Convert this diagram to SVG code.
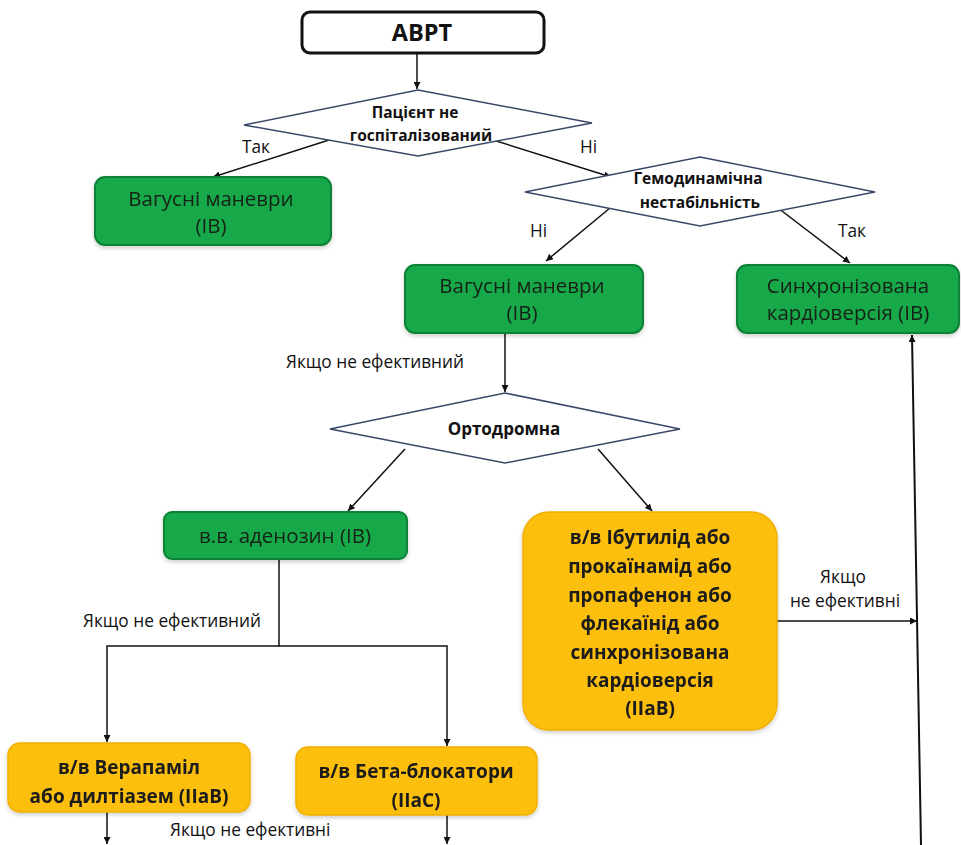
<svg xmlns="http://www.w3.org/2000/svg" width="961" height="845" viewBox="0 0 961 845">
<style>
.bg{fill:#ffffff}
.green{fill:#13a84a;stroke:#0c8236;stroke-width:2}
.orange{fill:#fdbf0f;stroke:#f0b000;stroke-width:1.5}
.dia{fill:#ffffff;stroke:#3a4868;stroke-width:1.5}
.start{fill:#ffffff;stroke:#111111;stroke-width:3}
.conn{fill:none;stroke:#111111;stroke-width:1.5}
.tg{font-family:"Open Sans","Liberation Sans",sans-serif;font-size:20.5px;fill:#152015;text-anchor:middle}
.tb{font-family:"Open Sans","Liberation Sans",sans-serif;font-size:19px;font-weight:bold;fill:#1a1a1a;text-anchor:middle}
.td{font-family:"Open Sans","Liberation Sans",sans-serif;font-size:15.5px;font-weight:bold;fill:#111111;text-anchor:middle}
.tl{font-family:"Open Sans","Liberation Sans",sans-serif;font-size:17.3px;fill:#111111}
.ts{font-family:"Open Sans","Liberation Sans",sans-serif;font-size:23.5px;font-weight:bold;fill:#111111;text-anchor:middle}
</style>
<defs>
<marker id="arr" viewBox="0 0 10 10" refX="10" refY="5" markerWidth="7" markerHeight="7" orient="auto" markerUnits="userSpaceOnUse">
<path d="M0,0 L10,5 L0,10 z" fill="#111111"/>
</marker>
<filter id="sh" x="-10%" y="-10%" width="120%" height="130%">
<feDropShadow dx="0" dy="2" stdDeviation="2" flood-color="#000000" flood-opacity="0.2"/>
</filter>
</defs>
<rect class="bg" x="0" y="0" width="961" height="845"/>

<g id="connectors">
<line class="conn" x1="417" y1="53" x2="417" y2="89" marker-end="url(#arr)"/>
<line class="conn" x1="329" y1="140" x2="213" y2="177" marker-end="url(#arr)"/>
<line class="conn" x1="493" y1="140" x2="611" y2="177" marker-end="url(#arr)"/>
<line class="conn" x1="610" y1="208" x2="546" y2="261" marker-end="url(#arr)"/>
<line class="conn" x1="778" y1="208" x2="850" y2="263" marker-end="url(#arr)"/>
<line class="conn" x1="505" y1="333" x2="505" y2="392" marker-end="url(#arr)"/>
<line class="conn" x1="405" y1="449" x2="348" y2="511" marker-end="url(#arr)"/>
<line class="conn" x1="598" y1="449" x2="652" y2="511" marker-end="url(#arr)"/>
<polyline class="conn" points="279,559 279,646 107,646 107,742" marker-end="url(#arr)"/>
<polyline class="conn" points="279,646 447,646 447,746" marker-end="url(#arr)"/>
<line class="conn" x1="777" y1="621" x2="917" y2="621" marker-end="url(#arr)"/>
<line class="conn" x1="921" y1="845" x2="912" y2="335" marker-end="url(#arr)" style="stroke-width:2"/>
<line class="conn" x1="107" y1="812" x2="107" y2="844" marker-end="url(#arr)"/>
<line class="conn" x1="447" y1="815" x2="447" y2="844" marker-end="url(#arr)"/>
<text class="tl" x="242" y="153">Так</text>
<text class="tl" x="580" y="153">Ні</text>
<text class="tl" x="530" y="237">Ні</text>
<text class="tl" x="838" y="237">Так</text>
<text class="tl" x="286" y="368">Якщо не ефективний</text>
<text class="tl" x="83" y="627">Якщо не ефективний</text>
<text class="tl" x="843" y="583" text-anchor="middle">Якщо</text>
<text class="tl" x="845" y="607" text-anchor="middle">не ефективні</text>
<text class="tl" x="170" y="836">Якщо не ефективні</text>
</g>

<g id="n-avrt">
<rect class="start" x="302" y="12" width="242" height="41" rx="8"/>
<text class="ts" x="422" y="41">АВРТ</text>
</g>

<g id="d-patient">
<polygon class="dia" points="418,90 592,123 418,156 244,125"/>
<text class="td" x="415" y="118">Пацієнт не</text>
<text class="td" x="421" y="141">госпіталізований</text>
</g>

<g id="n-vagal1" filter="url(#sh)">
<rect class="green" x="95" y="177" width="236" height="68" rx="10"/>
<text class="tg" x="211" y="206">Вагусні маневри</text>
<text class="tg" x="211" y="233">(IB)</text>
</g>

<g id="d-hemo">
<polygon class="dia" points="700,157 875,192 700,226 525,192"/>
<text class="td" x="698" y="184">Гемодинамічна</text>
<text class="td" x="700" y="208">нестабільність</text>
</g>

<g id="n-vagal2" filter="url(#sh)">
<rect class="green" x="405" y="265" width="238" height="68" rx="10"/>
<text class="tg" x="522" y="293">Вагусні маневри</text>
<text class="tg" x="522" y="320">(IB)</text>
</g>

<g id="n-cardio" filter="url(#sh)">
<rect class="green" x="737" y="265" width="222" height="68" rx="10"/>
<text class="tg" x="848" y="293">Синхронізована</text>
<text class="tg" x="848" y="320">кардіоверсія (IB)</text>
</g>

<g id="d-ortho">
<polygon class="dia" points="505,393 680,429 505,463 330,429"/>
<text class="td" x="504" y="435" style="font-size:17px">Ортодромна</text>
</g>

<g id="n-adenosine" filter="url(#sh)">
<rect class="green" x="164" y="512" width="243" height="47" rx="8"/>
<text class="tg" x="285" y="543">в.в. аденозин (IB)</text>
</g>

<g id="n-ibutilide" filter="url(#sh)">
<rect class="orange" x="523" y="512" width="254" height="218" rx="26"/>
<text class="tb" x="650" y="544">в/в Ібутилід або</text>
<text class="tb" x="650" y="573">прокаїнамід або</text>
<text class="tb" x="650" y="602">пропафенон або</text>
<text class="tb" x="650" y="630">флекаїнід або</text>
<text class="tb" x="650" y="659">синхронізована</text>
<text class="tb" x="650" y="687">кардіоверсія</text>
<text class="tb" x="650" y="715">(IIaB)</text>
</g>

<g id="n-verapamil" filter="url(#sh)">
<rect class="orange" x="8" y="743" width="242" height="69" rx="12"/>
<text class="tb" x="129" y="774">в/в Верапаміл</text>
<text class="tb" x="129" y="803">або дилтіазем (IIaB)</text>
</g>

<g id="n-beta" filter="url(#sh)">
<rect class="orange" x="296" y="747" width="241" height="68" rx="12"/>
<text class="tb" x="416" y="778">в/в Бета-блокатори</text>
<text class="tb" x="416" y="807">(IIaC)</text>
</g>
</svg>
